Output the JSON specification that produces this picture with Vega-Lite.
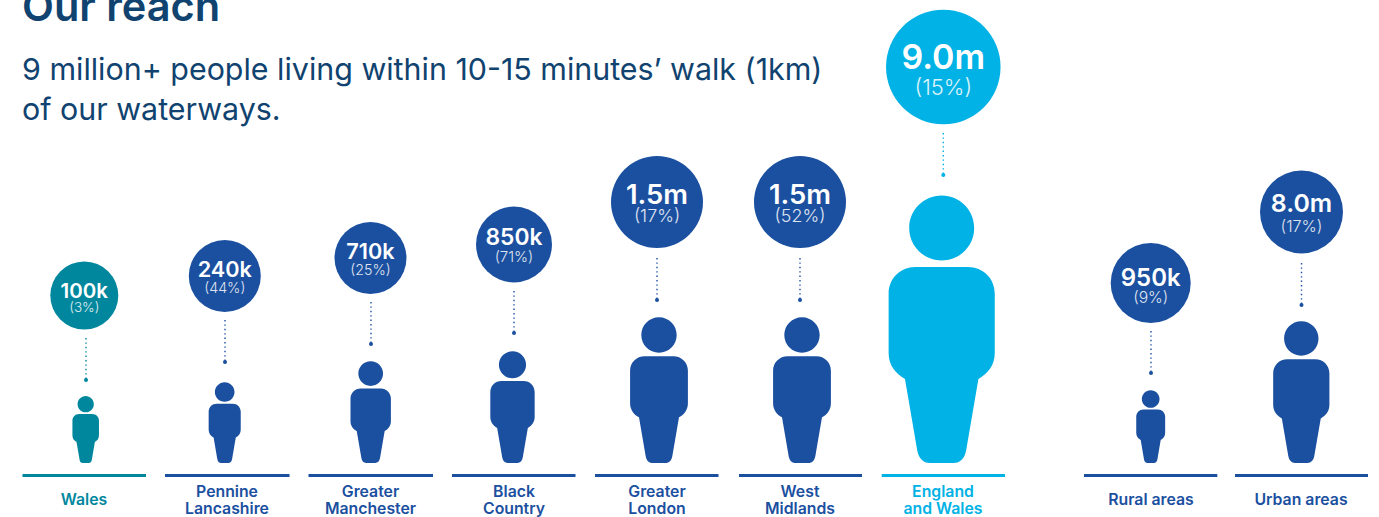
{
"$schema":"https://vega.github.io/schema/vega-lite/v6.json",
"width":1379,"height":517,"padding":0,"autosize":{"type":"none"},
"background":"#ffffff",
"view":{"stroke":null},
"config":{"font":"Inter"},
"resolve":{"scale":{"size":"independent"}},
"data":{"values":[
{"region":"Wales","reach":"100k","share":"(3%)","group":"Wales","bubble":68,"figure":67,"bubbleX":0.5895,"figureX":0.5993,"leaderX":0.6014,"lineStart":0.1573,"lineEnd":1.021,"labelX":0.5874,"labelY":-37,"bubbleY":167.5,"reachY":171,"shareY":155,"leaderTop":125,"leaderEnd":83},
{"region":"Pennine\nLancashire","reach":"240k","share":"(44%)","group":"Canal regions","bubble":72,"figure":81,"bubbleX":1.572,"figureX":1.5713,"leaderX":1.5734,"lineStart":1.1538,"lineEnd":2.0245,"labelX":1.5874,"labelY":-29,"bubbleY":187,"reachY":192,"shareY":174,"leaderTop":143,"leaderEnd":101},
{"region":"Greater\nManchester","reach":"710k","share":"(25%)","group":"Canal regions","bubble":72,"figure":102,"bubbleX":2.5909,"figureX":2.5923,"leaderX":2.5944,"lineStart":2.1573,"lineEnd":3.028,"labelX":2.5909,"labelY":-29,"bubbleY":205,"reachY":210,"shareY":192,"leaderTop":161,"leaderEnd":119},
{"region":"Black\nCountry","reach":"850k","share":"(71%)","group":"Canal regions","bubble":76,"figure":112,"bubbleX":3.5944,"figureX":3.5839,"leaderX":3.5944,"lineStart":3.1608,"lineEnd":4.0245,"labelX":3.5944,"labelY":-29,"bubbleY":218.5,"reachY":225,"shareY":205,"leaderTop":172,"leaderEnd":130},
{"region":"Greater\nLondon","reach":"1.5m","share":"(17%)","group":"Canal regions","bubble":92,"figure":146,"bubbleX":4.5944,"figureX":4.6084,"leaderX":4.5944,"lineStart":4.1608,"lineEnd":5.0245,"labelX":4.5944,"labelY":-29,"bubbleY":261,"reachY":267,"shareY":246,"leaderTop":205,"leaderEnd":163},
{"region":"West\nMidlands","reach":"1.5m","share":"(52%)","group":"Canal regions","bubble":92,"figure":146,"bubbleX":5.5944,"figureX":5.6084,"leaderX":5.5944,"lineStart":5.1678,"lineEnd":6.028,"labelX":5.5944,"labelY":-29,"bubbleY":261,"reachY":267,"shareY":246,"leaderTop":205,"leaderEnd":163},
{"region":"England\nand Wales","reach":"9.0m","share":"(15%)","group":"England and Wales","bubble":114.5,"figure":268,"bubbleX":6.5965,"figureX":6.5853,"leaderX":6.5965,"lineStart":6.1657,"lineEnd":7.028,"labelX":6.5944,"labelY":-29,"bubbleY":396,"reachY":404,"shareY":375,"leaderTop":330,"leaderEnd":288},
{"region":"Rural areas","reach":"950k","share":"(9%)","group":"Canal regions","bubble":80,"figure":73,"bubbleX":8.0469,"figureX":8.0469,"leaderX":8.049,"lineStart":7.5804,"lineEnd":8.5126,"labelX":8.049,"labelY":-37,"bubbleY":180,"reachY":184,"shareY":165,"leaderTop":132,"leaderEnd":90},
{"region":"Urban areas","reach":"8.0m","share":"(17%)","group":"Canal regions","bubble":83,"figure":142,"bubbleX":9.1014,"figureX":9.1,"leaderX":9.1014,"lineStart":8.6364,"lineEnd":9.5664,"labelX":9.0979,"labelY":-37,"bubbleY":251,"reachY":258,"shareY":236,"leaderTop":200,"leaderEnd":158}
]},
"layer":[
{"mark":{"type":"rule","strokeWidth":2.8},
 "encoding":{
  "x":{"field":"lineStart","type":"quantitative","scale":{"domain":[0,9.6434],"nice":false,"zero":false},"axis":null},
  "x2":{"field":"lineEnd"},
  "y":{"datum":-12.5,"type":"quantitative","scale":{"domain":[-54,463],"nice":false,"zero":false},"axis":null},
  "color":{"field":"group","type":"nominal","legend":null,"scale":{"domain":["Wales","Canal regions","England and Wales"],"range":["#00879e","#1b50a0","#00b2e5"]}}
 }},
{"mark":{"type":"rule","strokeWidth":1.4,"strokeDash":[1.4,3]},
 "encoding":{
  "x":{"field":"leaderX","type":"quantitative","axis":null},
  "y":{"field":"leaderTop","type":"quantitative","axis":null},
  "y2":{"field":"leaderEnd"},
  "color":{"field":"group","type":"nominal","legend":null}
 }},
{"mark":{"type":"point","filled":true,"opacity":1,"shape":"circle"},
 "encoding":{
  "x":{"field":"leaderX","type":"quantitative","axis":null},
  "y":{"field":"leaderEnd","type":"quantitative","axis":null},
  "size":{"value":16},
  "color":{"field":"group","type":"nominal","legend":null}
 }},
{"mark":{"type":"point","filled":true,"opacity":1,"shape":"circle"},
 "encoding":{
  "x":{"field":"bubbleX","type":"quantitative","axis":null},
  "y":{"field":"bubbleY","type":"quantitative","axis":null},
  "size":{"field":"bubble","type":"quantitative","legend":null,"scale":{"type":"pow","exponent":2,"domain":[0,100],"range":[0,10000]}},
  "color":{"field":"group","type":"nominal","legend":null}
 }},
{"mark":{"type":"point","filled":true,"opacity":1,
  "shape":"M-0.196,-1.463L0.196,-1.463C0.31,-1.463,0.396,-1.377,0.396,-1.263L0.396,-0.82C0.396,-0.73,0.345,-0.665,0.274,-0.627L0.183,-0.097C0.172,-0.035,0.14,0,0.087,0L-0.087,0C-0.14,0,-0.172,-0.035,-0.183,-0.097L-0.274,-0.627C-0.345,-0.665,-0.396,-0.73,-0.396,-0.82L-0.396,-1.263C-0.396,-1.377,-0.31,-1.463,-0.196,-1.463ZM-0.2425,-1.754C-0.2425,-1.888,-0.134,-1.9965,0,-1.9965C0.134,-1.9965,0.2425,-1.888,0.2425,-1.754C0.2425,-1.62,0.134,-1.5115,0,-1.5115C-0.134,-1.5115,-0.2425,-1.62,-0.2425,-1.754Z"},
 "encoding":{
  "x":{"field":"figureX","type":"quantitative","axis":null},
  "y":{"datum":0,"type":"quantitative","axis":null},
  "size":{"field":"figure","type":"quantitative","legend":null,"scale":{"type":"pow","exponent":2,"domain":[0,100],"range":[0,10000]}},
  "color":{"field":"group","type":"nominal","legend":null}
 }},
{"mark":{"type":"text","fontWeight":600,"align":"center","baseline":"middle","color":"#ffffff"},
 "encoding":{
  "x":{"field":"bubbleX","type":"quantitative","axis":null},
  "y":{"field":"reachY","type":"quantitative","axis":null},
  "text":{"field":"reach"},
  "size":{"field":"bubble","type":"quantitative","legend":null,"scale":{"domain":[68,114.5],"range":[20.5,34],"zero":false}}
 }},
{"mark":{"type":"text","fontWeight":300,"align":"center","baseline":"middle","color":"#ffffff","opacity":0.85},
 "encoding":{
  "x":{"field":"bubbleX","type":"quantitative","axis":null},
  "y":{"field":"shareY","type":"quantitative","axis":null},
  "text":{"field":"share"},
  "size":{"field":"bubble","type":"quantitative","legend":null,"scale":{"domain":[68,114.5],"range":[13.5,22],"zero":false}}
 }},
{"mark":{"type":"text","fontWeight":600,"fontSize":15.8,"align":"center","baseline":"middle","lineBreak":"\n","lineHeight":17},
 "encoding":{
  "x":{"field":"labelX","type":"quantitative","axis":null},
  "y":{"field":"labelY","type":"quantitative","axis":null},
  "text":{"field":"region"},
  "color":{"field":"group","type":"nominal","legend":null}
 }},
{"data":{"values":[{"text":"Our reach","x":0.154,"y":442}]},
 "mark":{"type":"text","align":"left","baseline":"alphabetic","fontSize":41.5,"fontWeight":600,"color":"#10436f"},
 "encoding":{
  "x":{"field":"x","type":"quantitative","axis":null},
  "y":{"field":"y","type":"quantitative","axis":null},
  "text":{"field":"text"}
 }},
{"data":{"values":[
  {"text":"9 million+ people living within 10-15 minutes’ walk (1km)","x":0.154,"y":383},
  {"text":"of our waterways.","x":0.154,"y":343.5}
 ]},
 "mark":{"type":"text","align":"left","baseline":"alphabetic","fontSize":30.4,"color":"#10436f"},
 "encoding":{
  "x":{"field":"x","type":"quantitative","axis":null},
  "y":{"field":"y","type":"quantitative","axis":null},
  "text":{"field":"text"}
 }}
]
}
